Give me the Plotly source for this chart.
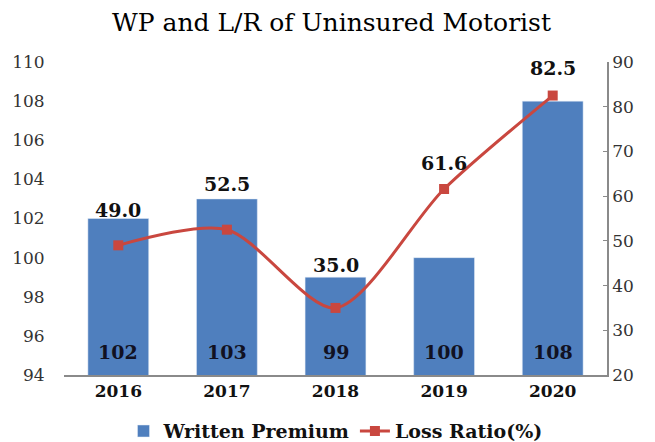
import plotly.graph_objects as go

years = ["2016", "2017", "2018", "2019", "2020"]
written_premium = [102, 103, 99, 100, 108]
loss_ratio = [49.0, 52.5, 35.0, 61.6, 82.5]
lr_labels = ["49.0", "52.5", "35.0", "61.6", "82.5"]
lr_label_shift = [35, 46, 43, 26, 28]

SERIF = "DejaVu Serif"

fig = go.Figure()
fig.add_trace(go.Bar(
    x=years, y=written_premium, name="<b>Written Premium</b>",
    marker=dict(color="#4F7FBE"),
))
fig.add_trace(go.Scatter(
    x=years, y=loss_ratio, name="<b>Loss Ratio(%)</b>", yaxis="y2",
    mode="lines+markers",
    line=dict(color="#C9473F", width=3, shape="spline", smoothing=0.8),
    marker=dict(symbol="square", size=10, color="#C9473F"),
    cliponaxis=False,
))
for i, v in enumerate(written_premium):
    fig.add_annotation(x=i, y=94, xref="x", yref="y", text="<b>%d</b>" % v,
                       showarrow=False, yshift=23,
                       font=dict(family=SERIF, size=19, color="#111122"))
for i, (v, lab, sh) in enumerate(zip(loss_ratio, lr_labels, lr_label_shift)):
    fig.add_annotation(x=i, y=v, xref="x", yref="y2", text="<b>%s</b>" % lab,
                       showarrow=False, yshift=sh,
                       font=dict(family=SERIF, size=19, color="#111111"))

fig.update_layout(
    width=647, height=434,
    margin=dict(l=56, r=48, t=54, b=67, autoexpand=False),
    paper_bgcolor="white", plot_bgcolor="white",
    title=dict(text="WP and L/R of Uninsured Motorist", x=0.5, xanchor="center",
               y=0.968, yanchor="middle",
               font=dict(family=SERIF, size=25, color="#000000")),
    bargap=0.44,
    legend=dict(orientation="h", x=0.5, xanchor="center", xref="paper",
                yref="container", y=0.025, yanchor="middle",
                font=dict(family=SERIF, size=19, color="#111111")),
    xaxis=dict(type="category", showline=True, linecolor="#8a8a8a", linewidth=1.5,
               automargin=False,
               tickvals=years, ticktext=["<b>%s</b>" % y for y in years],
               tickfont=dict(family=SERIF, size=17, color="#111111"),
               showgrid=False),
    yaxis=dict(range=[94, 110], dtick=2, showgrid=False, zeroline=False, automargin=False,
               ticks="outside", ticklen=15, tickcolor="rgba(0,0,0,0)",
               tickfont=dict(family=SERIF, size=17, color="#333333")),
    yaxis2=dict(range=[20, 90], dtick=10, overlaying="y", side="right", showgrid=False,
                automargin=False,
                showline=True, linecolor="#8a8a8a", linewidth=1.5, zeroline=False,
                ticks="inside", ticklen=4, tickcolor="#8a8a8a",
                tickfont=dict(family=SERIF, size=17, color="#333333")),
)

fig.write_html("out.html")
